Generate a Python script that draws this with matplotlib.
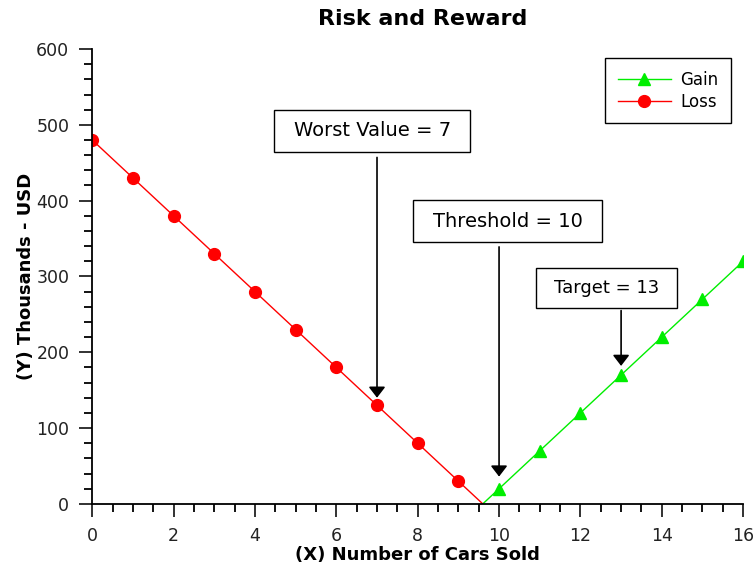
from matplotlib import pyplot as plt
from matplotlib.path import Path
from matplotlib.ticker import MultipleLocator

# data
loss_x = [0, 1, 2, 3, 4, 5, 6, 7, 8, 9, 9.6]
loss_y = [480, 430, 380, 330, 280, 230, 180, 130, 80, 30, 0]
gain_x = [9.6, 10, 11, 12, 13, 14, 15, 16]
gain_y = [0, 20, 70, 120, 170, 220, 270, 320]

notes = ["Worst Value = 7", "Threshold = 10", "Target = 13"]
note_size = [14, 14, 13]
note_pos = [(6.88, 492), (10.21, 373), (12.645, 285)]
arrow_tip = [(7, 140), (10, 36), (13, 182)]
arrow_tail = [(7, 457), (10, 339), (13, 255)]


# square box, wider padding left/right than top/bottom
def wide_box(x0, y0, width, height, mutation_size):
    px = 1.0 * mutation_size
    py = 0.6 * mutation_size
    verts = [(x0 - px, y0 - py), (x0 + width + px, y0 - py),
             (x0 + width + px, y0 + height + py), (x0 - px, y0 + height + py),
             (x0 - px, y0 - py)]
    return Path(verts, closed=True)


fig = plt.figure(figsize=(7.56, 5.7), dpi=100)
ax = fig.add_axes([0.122, 0.116, 0.861, 0.798])

ax.plot(gain_x, gain_y, color='#00ee00', lw=1.0, marker='^', ms=8,
        markevery=list(range(1, len(gain_x))), label='Gain')
ax.plot(loss_x, loss_y, color='red', lw=1.0, marker='o', ms=8.5,
        markevery=list(range(len(loss_x) - 1)), label='Loss')

for txt, fs, pos, tip, tail in zip(notes, note_size, note_pos, arrow_tip, arrow_tail):
    ax.text(pos[0], pos[1], txt, ha='center', va='center', fontsize=fs,
            bbox=dict(boxstyle=wide_box, fc='white', ec='black', lw=1))
    ax.annotate('', xy=tip, xytext=tail,
                arrowprops=dict(arrowstyle='-|>,head_length=0.65,head_width=0.5',
                                color='black', lw=1.2, shrinkA=0, shrinkB=0,
                                mutation_scale=10))

ax.set_xlim(0, 16)
ax.set_ylim(0, 600)
ax.xaxis.set_major_locator(MultipleLocator(2))
ax.xaxis.set_minor_locator(MultipleLocator(0.5))
ax.yaxis.set_major_locator(MultipleLocator(100))
ax.yaxis.set_minor_locator(MultipleLocator(20))
ax.tick_params(which='major', length=9.5, width=1.3, pad=7, labelsize=12.5,
               colors='#222222')
ax.tick_params(which='minor', length=6, width=1.3)

ax.spines['top'].set_visible(False)
ax.spines['right'].set_visible(False)
ax.spines['left'].set_linewidth(1.3)
ax.spines['bottom'].set_linewidth(1.3)

ax.set_title('Risk and Reward', fontsize=16, fontweight='bold', pad=17.5, x=0.508)
ax.set_xlabel('(X) Number of Cars Sold', fontsize=13, fontweight='bold', labelpad=1)
ax.set_ylabel('(Y) Thousands - USD', fontsize=13, fontweight='bold', labelpad=1)

# legend box anchored at its upper left corner
leg = ax.legend(loc='upper left', bbox_to_anchor=((605 - 92) / 651, (504 - 58) / 455),
                borderaxespad=0, fancybox=False, edgecolor='black', fontsize=12,
                borderpad=0.75, labelspacing=0.25, handlelength=3.2,
                handletextpad=0.57)
leg.get_frame().set_linewidth(1)
leg.get_frame().set_alpha(1)

plt.savefig('out.png')
